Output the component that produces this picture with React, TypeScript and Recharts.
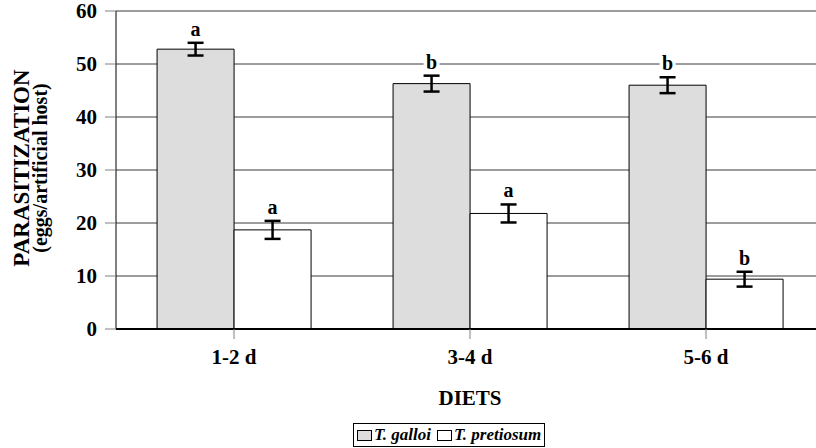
import React from 'react';
import { BarChart, Bar, XAxis, YAxis, CartesianGrid, ErrorBar, LabelList, Legend, Label } from 'recharts';

const categories = ['1-2 d', '3-4 d', '5-6 d'];
const galloiValues = [52.8, 46.3, 46.0];
const galloiErrors = [1.2, 1.5, 1.5];
const galloiLetters = ['a', 'b', 'b'];
const pretiosumValues = [18.7, 21.8, 9.4];
const pretiosumErrors = [1.7, 1.7, 1.4];
const pretiosumLetters = ['a', 'a', 'b'];
const yTicks = [0, 10, 20, 30, 40, 50, 60];

const data = categories.map((c, i) => ({
  diet: c,
  galloi: galloiValues[i],
  galloiErr: galloiErrors[i],
  galloiLetter: galloiLetters[i],
  pretiosum: pretiosumValues[i],
  pretiosumErr: pretiosumErrors[i],
  pretiosumLetter: pretiosumLetters[i],
}));

const FONT = 'Liberation Serif, serif';

const makeLetter = (values: number[], errors: number[], letters: string[]) => (props: any) => {
  const { x, y, width, height, index } = props;
  const v = values[index];
  const ppu = Number(height) / v;
  const errTop = Number(y) - errors[index] * ppu;
  const cx = Number(x) + Number(width) / 2;
  const cy = errTop - 13;
  return (
    <g>
      <rect x={cx - 8} y={cy - 9} width={16} height={18} fill="#fff" />
      <text x={cx} y={cy + 6} textAnchor="middle" style={{ fontFamily: FONT, fontWeight: 'bold', fontSize: 20 }} fill="#000">
        {letters[index]}
      </text>
    </g>
  );
};

const renderLegend = () => (
  <div
    style={{
      display: 'inline-flex',
      alignItems: 'center',
      border: '1px solid #000',
      padding: '0 3px',
      height: 22,
      fontFamily: FONT,
      fontWeight: 'bold',
      fontStyle: 'italic',
      fontSize: 17,
      background: '#fff',
      lineHeight: '22px',
      whiteSpace: 'nowrap',
      color: '#000',
    }}
  >
    <span style={{ display: 'inline-block', width: 13, height: 9, background: '#dddddd', border: '1px solid #000', marginRight: 2 }} />
    T. galloi
    <span style={{ display: 'inline-block', width: 13, height: 9, background: '#fff', border: '1px solid #000', marginLeft: 6, marginRight: 2 }} />
    T. pretiosum
  </div>
);

const yLabel = () => {
  const cy = 168;
  return (
    <g>
      <text
        transform={`translate(29, ${cy}) rotate(-90)`}
        textAnchor="middle"
        style={{ fontFamily: FONT, fontWeight: 'bold', fontSize: 23 }}
        fill="#000"
      >
        PARASITIZATION
      </text>
      <text
        transform={`translate(47, ${cy}) rotate(-90)`}
        textAnchor="middle"
        style={{ fontFamily: FONT, fontWeight: 'bold', fontSize: 20 }}
        fill="#000"
      >
        (eggs/artificial host)
      </text>
    </g>
  );
};

const xLabel = (props: any) => {
  const vb = props.viewBox || {};
  return (
    <text
      x={vb.x + vb.width / 2}
      y={vb.y + 76}
      textAnchor="middle"
      style={{ fontFamily: FONT, fontWeight: 'bold', fontSize: 21 }}
      fill="#000"
    >
      DIETS
    </text>
  );
};

const tickStyle = { fontFamily: FONT, fontWeight: 'bold', fontSize: 21, fill: '#000' };

export default function App() {
  return (
    <div style={{ position: 'absolute', left: 0, top: 0, width: 816, height: 448, overflow: 'hidden', background: '#fff', fontFamily: FONT }}>
      <BarChart
        width={824}
        height={448}
        data={data}
        margin={{ top: 11, right: 0, bottom: 55, left: 56 }}
        barCategoryGap="17.4%"
        barGap={0}
        style={{ fontFamily: FONT }}
      >
        <CartesianGrid vertical={false} stroke="#3a3a3a" strokeWidth={1} />
        <XAxis
          dataKey="diet"
          height={40}
          axisLine={{ stroke: '#000', strokeWidth: 2 }}
          tickLine={{ stroke: '#808080', strokeWidth: 1 }}
          tickSize={10}
          tickMargin={10}
          tick={tickStyle}
        >
          <Label content={xLabel} />
        </XAxis>
        <YAxis
          width={60}
          domain={[0, 60]}
          ticks={yTicks}
          interval={0}
          axisLine={{ stroke: '#000', strokeWidth: 1 }}
          tickLine={{ stroke: '#808080', strokeWidth: 1 }}
          tickSize={11}
          tickMargin={8}
          tick={tickStyle}
        >
          <Label content={yLabel} />
        </YAxis>
        <Legend content={renderLegend} wrapperStyle={{ position: 'absolute', left: 353, top: 423, width: 200, height: 24, bottom: 'auto' }} />
        <Bar dataKey="galloi" name="T. galloi" fill="#dddddd" stroke="#000" strokeWidth={1} isAnimationActive={false}>
          <ErrorBar dataKey="galloiErr" width={8} strokeWidth={2.5} stroke="#000" direction="y" />
          <LabelList dataKey="galloiLetter" content={makeLetter(galloiValues, galloiErrors, galloiLetters)} />
        </Bar>
        <Bar dataKey="pretiosum" name="T. pretiosum" fill="#ffffff" stroke="#000" strokeWidth={1} isAnimationActive={false}>
          <ErrorBar dataKey="pretiosumErr" width={8} strokeWidth={2.5} stroke="#000" direction="y" />
          <LabelList dataKey="pretiosumLetter" content={makeLetter(pretiosumValues, pretiosumErrors, pretiosumLetters)} />
        </Bar>
      </BarChart>
    </div>
  );
}
